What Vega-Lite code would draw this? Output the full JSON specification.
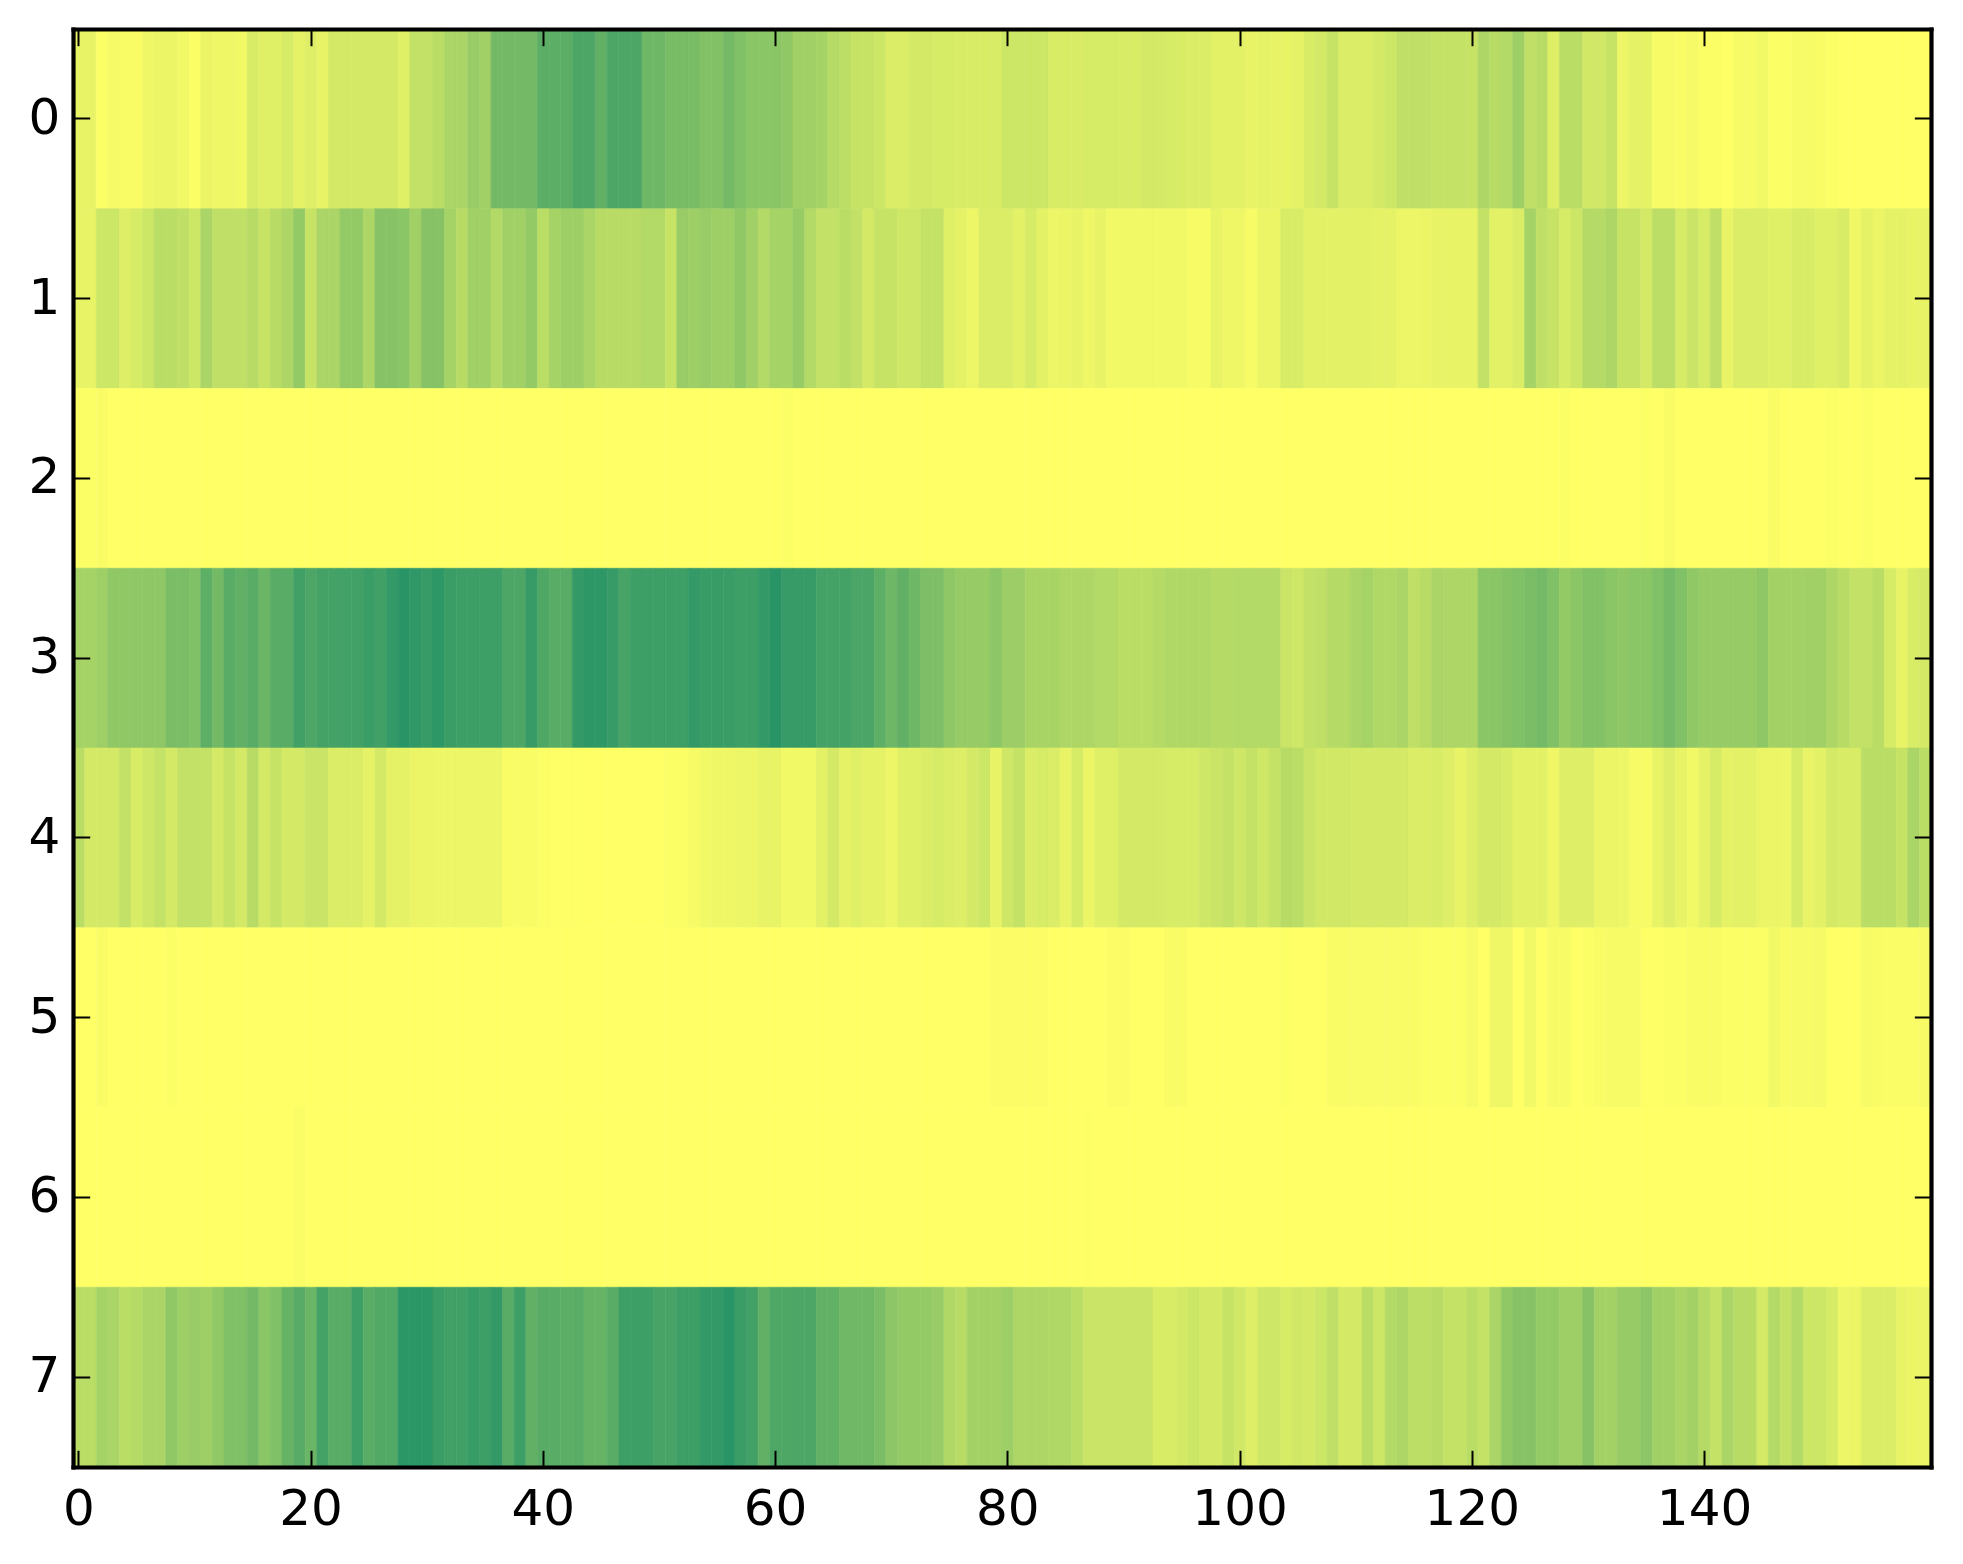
{
"$schema":"https://vega.github.io/schema/vega-lite/v6.json",
"width":1858,"height":1438,
"autosize":{"type":"none"},
"padding":{"left":73,"top":29,"right":32,"bottom":97},
"background":"white",
"data":{"values":[
{"x":0,"y":0,"v":0.09},{"x":1,"y":0,"v":0.09},{"x":2,"y":0,"v":0.01},{"x":3,"y":0,"v":0.04},{"x":4,"y":0,"v":0.02},{"x":5,"y":0,"v":0.02},{"x":6,"y":0,"v":0.06},{"x":7,"y":0,"v":0.08},{"x":8,"y":0,"v":0.08},{"x":9,"y":0,"v":0.05},{"x":10,"y":0,"v":0.01},{"x":11,"y":0,"v":0.08},{"x":12,"y":0,"v":0.06},{"x":13,"y":0,"v":0.06},{"x":14,"y":0,"v":0.05},{"x":15,"y":0,"v":0.15},{"x":16,"y":0,"v":0.12},{"x":17,"y":0,"v":0.12},{"x":18,"y":0,"v":0.16},{"x":19,"y":0,"v":0.1},
{"x":20,"y":0,"v":0.13},{"x":21,"y":0,"v":0.09},{"x":22,"y":0,"v":0.17},{"x":23,"y":0,"v":0.17},{"x":24,"y":0,"v":0.17},{"x":25,"y":0,"v":0.17},{"x":26,"y":0,"v":0.17},{"x":27,"y":0,"v":0.17},{"x":28,"y":0,"v":0.12},{"x":29,"y":0,"v":0.24},{"x":30,"y":0,"v":0.24},{"x":31,"y":0,"v":0.27},{"x":32,"y":0,"v":0.33},{"x":33,"y":0,"v":0.33},{"x":34,"y":0,"v":0.4},{"x":35,"y":0,"v":0.37},{"x":36,"y":0,"v":0.55},{"x":37,"y":0,"v":0.55},{"x":38,"y":0,"v":0.55},{"x":39,"y":0,"v":0.55},
{"x":40,"y":0,"v":0.64},{"x":41,"y":0,"v":0.64},{"x":42,"y":0,"v":0.64},{"x":43,"y":0,"v":0.7},{"x":44,"y":0,"v":0.7},{"x":45,"y":0,"v":0.62},{"x":46,"y":0,"v":0.7},{"x":47,"y":0,"v":0.7},{"x":48,"y":0,"v":0.7},{"x":49,"y":0,"v":0.57},{"x":50,"y":0,"v":0.57},{"x":51,"y":0,"v":0.53},{"x":52,"y":0,"v":0.53},{"x":53,"y":0,"v":0.53},{"x":54,"y":0,"v":0.49},{"x":55,"y":0,"v":0.49},{"x":56,"y":0,"v":0.55},{"x":57,"y":0,"v":0.5},{"x":58,"y":0,"v":0.46},{"x":59,"y":0,"v":0.46},
{"x":60,"y":0,"v":0.46},{"x":61,"y":0,"v":0.43},{"x":62,"y":0,"v":0.37},{"x":63,"y":0,"v":0.37},{"x":64,"y":0,"v":0.35},{"x":65,"y":0,"v":0.29},{"x":66,"y":0,"v":0.26},{"x":67,"y":0,"v":0.22},{"x":68,"y":0,"v":0.22},{"x":69,"y":0,"v":0.2},{"x":70,"y":0,"v":0.14},{"x":71,"y":0,"v":0.14},{"x":72,"y":0,"v":0.17},{"x":73,"y":0,"v":0.17},{"x":74,"y":0,"v":0.16},{"x":75,"y":0,"v":0.16},{"x":76,"y":0,"v":0.15},{"x":77,"y":0,"v":0.15},{"x":78,"y":0,"v":0.15},{"x":79,"y":0,"v":0.15},
{"x":80,"y":0,"v":0.2},{"x":81,"y":0,"v":0.2},{"x":82,"y":0,"v":0.2},{"x":83,"y":0,"v":0.2},{"x":84,"y":0,"v":0.15},{"x":85,"y":0,"v":0.15},{"x":86,"y":0,"v":0.15},{"x":87,"y":0,"v":0.16},{"x":88,"y":0,"v":0.16},{"x":89,"y":0,"v":0.16},{"x":90,"y":0,"v":0.15},{"x":91,"y":0,"v":0.15},{"x":92,"y":0,"v":0.17},{"x":93,"y":0,"v":0.17},{"x":94,"y":0,"v":0.16},{"x":95,"y":0,"v":0.15},{"x":96,"y":0,"v":0.14},{"x":97,"y":0,"v":0.14},{"x":98,"y":0,"v":0.11},{"x":99,"y":0,"v":0.11},
{"x":100,"y":0,"v":0.11},{"x":101,"y":0,"v":0.09},{"x":102,"y":0,"v":0.1},{"x":103,"y":0,"v":0.09},{"x":104,"y":0,"v":0.09},{"x":105,"y":0,"v":0.1},{"x":106,"y":0,"v":0.15},{"x":107,"y":0,"v":0.17},{"x":108,"y":0,"v":0.22},{"x":109,"y":0,"v":0.14},{"x":110,"y":0,"v":0.14},{"x":111,"y":0,"v":0.14},{"x":112,"y":0,"v":0.17},{"x":113,"y":0,"v":0.2},{"x":114,"y":0,"v":0.25},{"x":115,"y":0,"v":0.25},{"x":116,"y":0,"v":0.25},{"x":117,"y":0,"v":0.23},{"x":118,"y":0,"v":0.23},{"x":119,"y":0,"v":0.23},
{"x":120,"y":0,"v":0.22},{"x":121,"y":0,"v":0.32},{"x":122,"y":0,"v":0.28},{"x":123,"y":0,"v":0.3},{"x":124,"y":0,"v":0.38},{"x":125,"y":0,"v":0.25},{"x":126,"y":0,"v":0.28},{"x":127,"y":0,"v":0.13},{"x":128,"y":0,"v":0.27},{"x":129,"y":0,"v":0.27},{"x":130,"y":0,"v":0.18},{"x":131,"y":0,"v":0.18},{"x":132,"y":0,"v":0.22},{"x":133,"y":0,"v":0.07},{"x":134,"y":0,"v":0.1},{"x":135,"y":0,"v":0.1},{"x":136,"y":0,"v":0.03},{"x":137,"y":0,"v":0.03},{"x":138,"y":0,"v":0.02},{"x":139,"y":0,"v":0.04},
{"x":140,"y":0,"v":0.01},{"x":141,"y":0,"v":0.01},{"x":142,"y":0,"v":0},{"x":143,"y":0,"v":0.03},{"x":144,"y":0,"v":0.03},{"x":145,"y":0,"v":0.05},{"x":146,"y":0,"v":0.01},{"x":147,"y":0,"v":0.01},{"x":148,"y":0,"v":0.03},{"x":149,"y":0,"v":0.03},{"x":150,"y":0,"v":0.02},{"x":151,"y":0,"v":0.01},{"x":152,"y":0,"v":0},{"x":153,"y":0,"v":0},{"x":154,"y":0,"v":0},{"x":155,"y":0,"v":0},{"x":156,"y":0,"v":0},{"x":157,"y":0,"v":0},{"x":158,"y":0,"v":0},{"x":159,"y":0,"v":0},
{"x":0,"y":1,"v":0.09},{"x":1,"y":1,"v":0.09},{"x":2,"y":1,"v":0.2},{"x":3,"y":1,"v":0.2},{"x":4,"y":1,"v":0.13},{"x":5,"y":1,"v":0.16},{"x":6,"y":1,"v":0.2},{"x":7,"y":1,"v":0.27},{"x":8,"y":1,"v":0.27},{"x":9,"y":1,"v":0.25},{"x":10,"y":1,"v":0.2},{"x":11,"y":1,"v":0.33},{"x":12,"y":1,"v":0.25},{"x":13,"y":1,"v":0.25},{"x":14,"y":1,"v":0.25},{"x":15,"y":1,"v":0.28},{"x":16,"y":1,"v":0.22},{"x":17,"y":1,"v":0.28},{"x":18,"y":1,"v":0.32},{"x":19,"y":1,"v":0.42},
{"x":20,"y":1,"v":0.22},{"x":21,"y":1,"v":0.33},{"x":22,"y":1,"v":0.33},{"x":23,"y":1,"v":0.42},{"x":24,"y":1,"v":0.42},{"x":25,"y":1,"v":0.32},{"x":26,"y":1,"v":0.47},{"x":27,"y":1,"v":0.47},{"x":28,"y":1,"v":0.46},{"x":29,"y":1,"v":0.37},{"x":30,"y":1,"v":0.47},{"x":31,"y":1,"v":0.47},{"x":32,"y":1,"v":0.35},{"x":33,"y":1,"v":0.28},{"x":34,"y":1,"v":0.37},{"x":35,"y":1,"v":0.37},{"x":36,"y":1,"v":0.3},{"x":37,"y":1,"v":0.37},{"x":38,"y":1,"v":0.37},{"x":39,"y":1,"v":0.42},
{"x":40,"y":1,"v":0.27},{"x":41,"y":1,"v":0.35},{"x":42,"y":1,"v":0.38},{"x":43,"y":1,"v":0.38},{"x":44,"y":1,"v":0.33},{"x":45,"y":1,"v":0.28},{"x":46,"y":1,"v":0.28},{"x":47,"y":1,"v":0.28},{"x":48,"y":1,"v":0.28},{"x":49,"y":1,"v":0.3},{"x":50,"y":1,"v":0.3},{"x":51,"y":1,"v":0.22},{"x":52,"y":1,"v":0.4},{"x":53,"y":1,"v":0.38},{"x":54,"y":1,"v":0.4},{"x":55,"y":1,"v":0.38},{"x":56,"y":1,"v":0.38},{"x":57,"y":1,"v":0.43},{"x":58,"y":1,"v":0.37},{"x":59,"y":1,"v":0.3},
{"x":60,"y":1,"v":0.35},{"x":61,"y":1,"v":0.35},{"x":62,"y":1,"v":0.41},{"x":63,"y":1,"v":0.3},{"x":64,"y":1,"v":0.24},{"x":65,"y":1,"v":0.24},{"x":66,"y":1,"v":0.27},{"x":67,"y":1,"v":0.24},{"x":68,"y":1,"v":0.17},{"x":69,"y":1,"v":0.22},{"x":70,"y":1,"v":0.22},{"x":71,"y":1,"v":0.19},{"x":72,"y":1,"v":0.19},{"x":73,"y":1,"v":0.23},{"x":74,"y":1,"v":0.23},{"x":75,"y":1,"v":0.12},{"x":76,"y":1,"v":0.1},{"x":77,"y":1,"v":0.07},{"x":78,"y":1,"v":0.14},{"x":79,"y":1,"v":0.14},
{"x":80,"y":1,"v":0.14},{"x":81,"y":1,"v":0.11},{"x":82,"y":1,"v":0.16},{"x":83,"y":1,"v":0.11},{"x":84,"y":1,"v":0.07},{"x":85,"y":1,"v":0.08},{"x":86,"y":1,"v":0.09},{"x":87,"y":1,"v":0.06},{"x":88,"y":1,"v":0.09},{"x":89,"y":1,"v":0.05},{"x":90,"y":1,"v":0.05},{"x":91,"y":1,"v":0.05},{"x":92,"y":1,"v":0.05},{"x":93,"y":1,"v":0.05},{"x":94,"y":1,"v":0.05},{"x":95,"y":1,"v":0.05},{"x":96,"y":1,"v":0.03},{"x":97,"y":1,"v":0.03},{"x":98,"y":1,"v":0.09},{"x":99,"y":1,"v":0.06},
{"x":100,"y":1,"v":0.06},{"x":101,"y":1,"v":0.03},{"x":102,"y":1,"v":0.08},{"x":103,"y":1,"v":0.08},{"x":104,"y":1,"v":0.15},{"x":105,"y":1,"v":0.15},{"x":106,"y":1,"v":0.11},{"x":107,"y":1,"v":0.11},{"x":108,"y":1,"v":0.11},{"x":109,"y":1,"v":0.11},{"x":110,"y":1,"v":0.11},{"x":111,"y":1,"v":0.11},{"x":112,"y":1,"v":0.1},{"x":113,"y":1,"v":0.1},{"x":114,"y":1,"v":0.07},{"x":115,"y":1,"v":0.07},{"x":116,"y":1,"v":0.08},{"x":117,"y":1,"v":0.09},{"x":118,"y":1,"v":0.09},{"x":119,"y":1,"v":0.09},
{"x":120,"y":1,"v":0.09},{"x":121,"y":1,"v":0.24},{"x":122,"y":1,"v":0.11},{"x":123,"y":1,"v":0.11},{"x":124,"y":1,"v":0.14},{"x":125,"y":1,"v":0.35},{"x":126,"y":1,"v":0.25},{"x":127,"y":1,"v":0.22},{"x":128,"y":1,"v":0.16},{"x":129,"y":1,"v":0.2},{"x":130,"y":1,"v":0.29},{"x":131,"y":1,"v":0.29},{"x":132,"y":1,"v":0.32},{"x":133,"y":1,"v":0.22},{"x":134,"y":1,"v":0.22},{"x":135,"y":1,"v":0.17},{"x":136,"y":1,"v":0.26},{"x":137,"y":1,"v":0.26},{"x":138,"y":1,"v":0.16},{"x":139,"y":1,"v":0.21},
{"x":140,"y":1,"v":0.16},{"x":141,"y":1,"v":0.25},{"x":142,"y":1,"v":0.09},{"x":143,"y":1,"v":0.14},{"x":144,"y":1,"v":0.14},{"x":145,"y":1,"v":0.14},{"x":146,"y":1,"v":0.12},{"x":147,"y":1,"v":0.12},{"x":148,"y":1,"v":0.15},{"x":149,"y":1,"v":0.15},{"x":150,"y":1,"v":0.12},{"x":151,"y":1,"v":0.12},{"x":152,"y":1,"v":0.15},{"x":153,"y":1,"v":0.06},{"x":154,"y":1,"v":0.1},{"x":155,"y":1,"v":0.08},{"x":156,"y":1,"v":0.1},{"x":157,"y":1,"v":0.1},{"x":158,"y":1,"v":0.09},{"x":159,"y":1,"v":0.09},
{"x":0,"y":2,"v":0.01},{"x":1,"y":2,"v":0.01},{"x":2,"y":2,"v":0.02},{"x":3,"y":2,"v":0},{"x":4,"y":2,"v":0},{"x":5,"y":2,"v":0},{"x":6,"y":2,"v":0},{"x":7,"y":2,"v":0},{"x":8,"y":2,"v":0},{"x":9,"y":2,"v":0},{"x":10,"y":2,"v":0},{"x":11,"y":2,"v":0},{"x":12,"y":2,"v":0},{"x":13,"y":2,"v":0},{"x":14,"y":2,"v":0},{"x":15,"y":2,"v":0},{"x":16,"y":2,"v":0},{"x":17,"y":2,"v":0},{"x":18,"y":2,"v":0},{"x":19,"y":2,"v":0},
{"x":20,"y":2,"v":0},{"x":21,"y":2,"v":0},{"x":22,"y":2,"v":0},{"x":23,"y":2,"v":0},{"x":24,"y":2,"v":0},{"x":25,"y":2,"v":0},{"x":26,"y":2,"v":0},{"x":27,"y":2,"v":0},{"x":28,"y":2,"v":0},{"x":29,"y":2,"v":0},{"x":30,"y":2,"v":0},{"x":31,"y":2,"v":0},{"x":32,"y":2,"v":0},{"x":33,"y":2,"v":0},{"x":34,"y":2,"v":0},{"x":35,"y":2,"v":0},{"x":36,"y":2,"v":0},{"x":37,"y":2,"v":0},{"x":38,"y":2,"v":0},{"x":39,"y":2,"v":0},
{"x":40,"y":2,"v":0},{"x":41,"y":2,"v":0},{"x":42,"y":2,"v":0},{"x":43,"y":2,"v":0},{"x":44,"y":2,"v":0},{"x":45,"y":2,"v":0},{"x":46,"y":2,"v":0},{"x":47,"y":2,"v":0},{"x":48,"y":2,"v":0},{"x":49,"y":2,"v":0},{"x":50,"y":2,"v":0},{"x":51,"y":2,"v":0},{"x":52,"y":2,"v":0},{"x":53,"y":2,"v":0},{"x":54,"y":2,"v":0},{"x":55,"y":2,"v":0},{"x":56,"y":2,"v":0},{"x":57,"y":2,"v":0},{"x":58,"y":2,"v":0},{"x":59,"y":2,"v":0},
{"x":60,"y":2,"v":0},{"x":61,"y":2,"v":0.01},{"x":62,"y":2,"v":0},{"x":63,"y":2,"v":0},{"x":64,"y":2,"v":0},{"x":65,"y":2,"v":0},{"x":66,"y":2,"v":0},{"x":67,"y":2,"v":0},{"x":68,"y":2,"v":0},{"x":69,"y":2,"v":0},{"x":70,"y":2,"v":0},{"x":71,"y":2,"v":0},{"x":72,"y":2,"v":0},{"x":73,"y":2,"v":0},{"x":74,"y":2,"v":0},{"x":75,"y":2,"v":0},{"x":76,"y":2,"v":0},{"x":77,"y":2,"v":0},{"x":78,"y":2,"v":0},{"x":79,"y":2,"v":0},
{"x":80,"y":2,"v":0},{"x":81,"y":2,"v":0},{"x":82,"y":2,"v":0},{"x":83,"y":2,"v":0},{"x":84,"y":2,"v":0},{"x":85,"y":2,"v":0},{"x":86,"y":2,"v":0},{"x":87,"y":2,"v":0},{"x":88,"y":2,"v":0},{"x":89,"y":2,"v":0},{"x":90,"y":2,"v":0},{"x":91,"y":2,"v":0},{"x":92,"y":2,"v":0},{"x":93,"y":2,"v":0},{"x":94,"y":2,"v":0},{"x":95,"y":2,"v":0},{"x":96,"y":2,"v":0},{"x":97,"y":2,"v":0},{"x":98,"y":2,"v":0},{"x":99,"y":2,"v":0},
{"x":100,"y":2,"v":0},{"x":101,"y":2,"v":0},{"x":102,"y":2,"v":0},{"x":103,"y":2,"v":0},{"x":104,"y":2,"v":0},{"x":105,"y":2,"v":0},{"x":106,"y":2,"v":0},{"x":107,"y":2,"v":0},{"x":108,"y":2,"v":0},{"x":109,"y":2,"v":0},{"x":110,"y":2,"v":0},{"x":111,"y":2,"v":0},{"x":112,"y":2,"v":0},{"x":113,"y":2,"v":0},{"x":114,"y":2,"v":0},{"x":115,"y":2,"v":0},{"x":116,"y":2,"v":0},{"x":117,"y":2,"v":0},{"x":118,"y":2,"v":0},{"x":119,"y":2,"v":0},
{"x":120,"y":2,"v":0},{"x":121,"y":2,"v":0},{"x":122,"y":2,"v":0},{"x":123,"y":2,"v":0},{"x":124,"y":2,"v":0},{"x":125,"y":2,"v":0},{"x":126,"y":2,"v":0},{"x":127,"y":2,"v":0},{"x":128,"y":2,"v":0.01},{"x":129,"y":2,"v":0},{"x":130,"y":2,"v":0},{"x":131,"y":2,"v":0},{"x":132,"y":2,"v":0},{"x":133,"y":2,"v":0},{"x":134,"y":2,"v":0},{"x":135,"y":2,"v":0.01},{"x":136,"y":2,"v":0},{"x":137,"y":2,"v":0.02},{"x":138,"y":2,"v":0},{"x":139,"y":2,"v":0},
{"x":140,"y":2,"v":0},{"x":141,"y":2,"v":0},{"x":142,"y":2,"v":0},{"x":143,"y":2,"v":0},{"x":144,"y":2,"v":0},{"x":145,"y":2,"v":0},{"x":146,"y":2,"v":0.02},{"x":147,"y":2,"v":0},{"x":148,"y":2,"v":0},{"x":149,"y":2,"v":0},{"x":150,"y":2,"v":0},{"x":151,"y":2,"v":0.01},{"x":152,"y":2,"v":0},{"x":153,"y":2,"v":0},{"x":154,"y":2,"v":0.01},{"x":155,"y":2,"v":0},{"x":156,"y":2,"v":0},{"x":157,"y":2,"v":0},{"x":158,"y":2,"v":0},{"x":159,"y":2,"v":0},
{"x":0,"y":3,"v":0.35},{"x":1,"y":3,"v":0.35},{"x":2,"y":3,"v":0.38},{"x":3,"y":3,"v":0.43},{"x":4,"y":3,"v":0.43},{"x":5,"y":3,"v":0.44},{"x":6,"y":3,"v":0.44},{"x":7,"y":3,"v":0.44},{"x":8,"y":3,"v":0.52},{"x":9,"y":3,"v":0.52},{"x":10,"y":3,"v":0.5},{"x":11,"y":3,"v":0.63},{"x":12,"y":3,"v":0.55},{"x":13,"y":3,"v":0.65},{"x":14,"y":3,"v":0.62},{"x":15,"y":3,"v":0.65},{"x":16,"y":3,"v":0.58},{"x":17,"y":3,"v":0.65},{"x":18,"y":3,"v":0.65},{"x":19,"y":3,"v":0.75},
{"x":20,"y":3,"v":0.7},{"x":21,"y":3,"v":0.73},{"x":22,"y":3,"v":0.73},{"x":23,"y":3,"v":0.74},{"x":24,"y":3,"v":0.74},{"x":25,"y":3,"v":0.77},{"x":26,"y":3,"v":0.75},{"x":27,"y":3,"v":0.8},{"x":28,"y":3,"v":0.84},{"x":29,"y":3,"v":0.81},{"x":30,"y":3,"v":0.79},{"x":31,"y":3,"v":0.82},{"x":32,"y":3,"v":0.77},{"x":33,"y":3,"v":0.76},{"x":34,"y":3,"v":0.76},{"x":35,"y":3,"v":0.76},{"x":36,"y":3,"v":0.76},{"x":37,"y":3,"v":0.7},{"x":38,"y":3,"v":0.7},{"x":39,"y":3,"v":0.79},
{"x":40,"y":3,"v":0.69},{"x":41,"y":3,"v":0.65},{"x":42,"y":3,"v":0.65},{"x":43,"y":3,"v":0.8},{"x":44,"y":3,"v":0.82},{"x":45,"y":3,"v":0.82},{"x":46,"y":3,"v":0.79},{"x":47,"y":3,"v":0.72},{"x":48,"y":3,"v":0.76},{"x":49,"y":3,"v":0.76},{"x":50,"y":3,"v":0.76},{"x":51,"y":3,"v":0.76},{"x":52,"y":3,"v":0.76},{"x":53,"y":3,"v":0.8},{"x":54,"y":3,"v":0.78},{"x":55,"y":3,"v":0.78},{"x":56,"y":3,"v":0.77},{"x":57,"y":3,"v":0.76},{"x":58,"y":3,"v":0.76},{"x":59,"y":3,"v":0.8},
{"x":60,"y":3,"v":0.84},{"x":61,"y":3,"v":0.79},{"x":62,"y":3,"v":0.79},{"x":63,"y":3,"v":0.79},{"x":64,"y":3,"v":0.73},{"x":65,"y":3,"v":0.73},{"x":66,"y":3,"v":0.73},{"x":67,"y":3,"v":0.71},{"x":68,"y":3,"v":0.71},{"x":69,"y":3,"v":0.63},{"x":70,"y":3,"v":0.57},{"x":71,"y":3,"v":0.62},{"x":72,"y":3,"v":0.57},{"x":73,"y":3,"v":0.51},{"x":74,"y":3,"v":0.51},{"x":75,"y":3,"v":0.44},{"x":76,"y":3,"v":0.41},{"x":77,"y":3,"v":0.41},{"x":78,"y":3,"v":0.41},{"x":79,"y":3,"v":0.45},
{"x":80,"y":3,"v":0.39},{"x":81,"y":3,"v":0.39},{"x":82,"y":3,"v":0.34},{"x":83,"y":3,"v":0.34},{"x":84,"y":3,"v":0.34},{"x":85,"y":3,"v":0.32},{"x":86,"y":3,"v":0.32},{"x":87,"y":3,"v":0.32},{"x":88,"y":3,"v":0.3},{"x":89,"y":3,"v":0.3},{"x":90,"y":3,"v":0.27},{"x":91,"y":3,"v":0.27},{"x":92,"y":3,"v":0.27},{"x":93,"y":3,"v":0.29},{"x":94,"y":3,"v":0.31},{"x":95,"y":3,"v":0.31},{"x":96,"y":3,"v":0.31},{"x":97,"y":3,"v":0.31},{"x":98,"y":3,"v":0.29},{"x":99,"y":3,"v":0.29},
{"x":100,"y":3,"v":0.3},{"x":101,"y":3,"v":0.3},{"x":102,"y":3,"v":0.3},{"x":103,"y":3,"v":0.3},{"x":104,"y":3,"v":0.21},{"x":105,"y":3,"v":0.19},{"x":106,"y":3,"v":0.24},{"x":107,"y":3,"v":0.25},{"x":108,"y":3,"v":0.29},{"x":109,"y":3,"v":0.29},{"x":110,"y":3,"v":0.33},{"x":111,"y":3,"v":0.35},{"x":112,"y":3,"v":0.31},{"x":113,"y":3,"v":0.31},{"x":114,"y":3,"v":0.33},{"x":115,"y":3,"v":0.25},{"x":116,"y":3,"v":0.28},{"x":117,"y":3,"v":0.33},{"x":118,"y":3,"v":0.32},{"x":119,"y":3,"v":0.32},
{"x":120,"y":3,"v":0.32},{"x":121,"y":3,"v":0.46},{"x":122,"y":3,"v":0.46},{"x":123,"y":3,"v":0.48},{"x":124,"y":3,"v":0.5},{"x":125,"y":3,"v":0.52},{"x":126,"y":3,"v":0.55},{"x":127,"y":3,"v":0.5},{"x":128,"y":3,"v":0.42},{"x":129,"y":3,"v":0.46},{"x":130,"y":3,"v":0.49},{"x":131,"y":3,"v":0.49},{"x":132,"y":3,"v":0.46},{"x":133,"y":3,"v":0.44},{"x":134,"y":3,"v":0.46},{"x":135,"y":3,"v":0.46},{"x":136,"y":3,"v":0.5},{"x":137,"y":3,"v":0.54},{"x":138,"y":3,"v":0.5},{"x":139,"y":3,"v":0.43},
{"x":140,"y":3,"v":0.41},{"x":141,"y":3,"v":0.41},{"x":142,"y":3,"v":0.41},{"x":143,"y":3,"v":0.41},{"x":144,"y":3,"v":0.41},{"x":145,"y":3,"v":0.44},{"x":146,"y":3,"v":0.36},{"x":147,"y":3,"v":0.36},{"x":148,"y":3,"v":0.36},{"x":149,"y":3,"v":0.37},{"x":150,"y":3,"v":0.37},{"x":151,"y":3,"v":0.32},{"x":152,"y":3,"v":0.28},{"x":153,"y":3,"v":0.24},{"x":154,"y":3,"v":0.24},{"x":155,"y":3,"v":0.27},{"x":156,"y":3,"v":0.16},{"x":157,"y":3,"v":0.09},{"x":158,"y":3,"v":0.15},{"x":159,"y":3,"v":0.17},
{"x":0,"y":4,"v":0.27},{"x":1,"y":4,"v":0.17},{"x":2,"y":4,"v":0.17},{"x":3,"y":4,"v":0.17},{"x":4,"y":4,"v":0.24},{"x":5,"y":4,"v":0.15},{"x":6,"y":4,"v":0.19},{"x":7,"y":4,"v":0.23},{"x":8,"y":4,"v":0.17},{"x":9,"y":4,"v":0.24},{"x":10,"y":4,"v":0.24},{"x":11,"y":4,"v":0.23},{"x":12,"y":4,"v":0.17},{"x":13,"y":4,"v":0.22},{"x":14,"y":4,"v":0.17},{"x":15,"y":4,"v":0.28},{"x":16,"y":4,"v":0.17},{"x":17,"y":4,"v":0.22},{"x":18,"y":4,"v":0.17},{"x":19,"y":4,"v":0.17},
{"x":20,"y":4,"v":0.21},{"x":21,"y":4,"v":0.21},{"x":22,"y":4,"v":0.14},{"x":23,"y":4,"v":0.14},{"x":24,"y":4,"v":0.14},{"x":25,"y":4,"v":0.1},{"x":26,"y":4,"v":0.17},{"x":27,"y":4,"v":0.1},{"x":28,"y":4,"v":0.1},{"x":29,"y":4,"v":0.08},{"x":30,"y":4,"v":0.08},{"x":31,"y":4,"v":0.07},{"x":32,"y":4,"v":0.07},{"x":33,"y":4,"v":0.07},{"x":34,"y":4,"v":0.07},{"x":35,"y":4,"v":0.07},{"x":36,"y":4,"v":0.07},{"x":37,"y":4,"v":0.02},{"x":38,"y":4,"v":0.02},{"x":39,"y":4,"v":0.02},
{"x":40,"y":4,"v":0.01},{"x":41,"y":4,"v":0.005},{"x":42,"y":4,"v":0.005},{"x":43,"y":4,"v":0.005},{"x":44,"y":4,"v":0},{"x":45,"y":4,"v":0},{"x":46,"y":4,"v":0},{"x":47,"y":4,"v":0},{"x":48,"y":4,"v":0},{"x":49,"y":4,"v":0},{"x":50,"y":4,"v":0},{"x":51,"y":4,"v":0.01},{"x":52,"y":4,"v":0.01},{"x":53,"y":4,"v":0.03},{"x":54,"y":4,"v":0.05},{"x":55,"y":4,"v":0.06},{"x":56,"y":4,"v":0.06},{"x":57,"y":4,"v":0.07},{"x":58,"y":4,"v":0.07},{"x":59,"y":4,"v":0.09},
{"x":60,"y":4,"v":0.09},{"x":61,"y":4,"v":0.05},{"x":62,"y":4,"v":0.05},{"x":63,"y":4,"v":0.05},{"x":64,"y":4,"v":0.11},{"x":65,"y":4,"v":0.17},{"x":66,"y":4,"v":0.1},{"x":67,"y":4,"v":0.12},{"x":68,"y":4,"v":0.1},{"x":69,"y":4,"v":0.1},{"x":70,"y":4,"v":0.07},{"x":71,"y":4,"v":0.12},{"x":72,"y":4,"v":0.12},{"x":73,"y":4,"v":0.14},{"x":74,"y":4,"v":0.16},{"x":75,"y":4,"v":0.14},{"x":76,"y":4,"v":0.13},{"x":77,"y":4,"v":0.17},{"x":78,"y":4,"v":0.2},{"x":79,"y":4,"v":0.09},
{"x":80,"y":4,"v":0.19},{"x":81,"y":4,"v":0.23},{"x":82,"y":4,"v":0.14},{"x":83,"y":4,"v":0.16},{"x":84,"y":4,"v":0.14},{"x":85,"y":4,"v":0.09},{"x":86,"y":4,"v":0.16},{"x":87,"y":4,"v":0.08},{"x":88,"y":4,"v":0.12},{"x":89,"y":4,"v":0.12},{"x":90,"y":4,"v":0.17},{"x":91,"y":4,"v":0.17},{"x":92,"y":4,"v":0.17},{"x":93,"y":4,"v":0.17},{"x":94,"y":4,"v":0.16},{"x":95,"y":4,"v":0.16},{"x":96,"y":4,"v":0.16},{"x":97,"y":4,"v":0.19},{"x":98,"y":4,"v":0.21},{"x":99,"y":4,"v":0.23},
{"x":100,"y":4,"v":0.19},{"x":101,"y":4,"v":0.23},{"x":102,"y":4,"v":0.19},{"x":103,"y":4,"v":0.23},{"x":104,"y":4,"v":0.28},{"x":105,"y":4,"v":0.27},{"x":106,"y":4,"v":0.21},{"x":107,"y":4,"v":0.18},{"x":108,"y":4,"v":0.18},{"x":109,"y":4,"v":0.18},{"x":110,"y":4,"v":0.17},{"x":111,"y":4,"v":0.17},{"x":112,"y":4,"v":0.17},{"x":113,"y":4,"v":0.17},{"x":114,"y":4,"v":0.17},{"x":115,"y":4,"v":0.14},{"x":116,"y":4,"v":0.14},{"x":117,"y":4,"v":0.15},{"x":118,"y":4,"v":0.13},{"x":119,"y":4,"v":0.09},
{"x":120,"y":4,"v":0.13},{"x":121,"y":4,"v":0.17},{"x":122,"y":4,"v":0.17},{"x":123,"y":4,"v":0.15},{"x":124,"y":4,"v":0.11},{"x":125,"y":4,"v":0.11},{"x":126,"y":4,"v":0.11},{"x":127,"y":4,"v":0.06},{"x":128,"y":4,"v":0.13},{"x":129,"y":4,"v":0.13},{"x":130,"y":4,"v":0.13},{"x":131,"y":4,"v":0.08},{"x":132,"y":4,"v":0.08},{"x":133,"y":4,"v":0.07},{"x":134,"y":4,"v":0.03},{"x":135,"y":4,"v":0.03},{"x":136,"y":4,"v":0.09},{"x":137,"y":4,"v":0.13},{"x":138,"y":4,"v":0.09},{"x":139,"y":4,"v":0.05},
{"x":140,"y":4,"v":0.1},{"x":141,"y":4,"v":0.16},{"x":142,"y":4,"v":0.1},{"x":143,"y":4,"v":0.11},{"x":144,"y":4,"v":0.11},{"x":145,"y":4,"v":0.08},{"x":146,"y":4,"v":0.08},{"x":147,"y":4,"v":0.07},{"x":148,"y":4,"v":0.16},{"x":149,"y":4,"v":0.09},{"x":150,"y":4,"v":0.11},{"x":151,"y":4,"v":0.17},{"x":152,"y":4,"v":0.15},{"x":153,"y":4,"v":0.15},{"x":154,"y":4,"v":0.27},{"x":155,"y":4,"v":0.27},{"x":156,"y":4,"v":0.27},{"x":157,"y":4,"v":0.22},{"x":158,"y":4,"v":0.33},{"x":159,"y":4,"v":0.27},
{"x":0,"y":5,"v":0},{"x":1,"y":5,"v":0},{"x":2,"y":5,"v":0.02},{"x":3,"y":5,"v":0},{"x":4,"y":5,"v":0},{"x":5,"y":5,"v":0},{"x":6,"y":5,"v":0},{"x":7,"y":5,"v":0},{"x":8,"y":5,"v":0.01},{"x":9,"y":5,"v":0},{"x":10,"y":5,"v":0},{"x":11,"y":5,"v":0},{"x":12,"y":5,"v":0},{"x":13,"y":5,"v":0},{"x":14,"y":5,"v":0},{"x":15,"y":5,"v":0},{"x":16,"y":5,"v":0},{"x":17,"y":5,"v":0},{"x":18,"y":5,"v":0},{"x":19,"y":5,"v":0},
{"x":20,"y":5,"v":0},{"x":21,"y":5,"v":0},{"x":22,"y":5,"v":0},{"x":23,"y":5,"v":0},{"x":24,"y":5,"v":0},{"x":25,"y":5,"v":0},{"x":26,"y":5,"v":0},{"x":27,"y":5,"v":0},{"x":28,"y":5,"v":0},{"x":29,"y":5,"v":0},{"x":30,"y":5,"v":0},{"x":31,"y":5,"v":0},{"x":32,"y":5,"v":0},{"x":33,"y":5,"v":0},{"x":34,"y":5,"v":0},{"x":35,"y":5,"v":0},{"x":36,"y":5,"v":0},{"x":37,"y":5,"v":0},{"x":38,"y":5,"v":0},{"x":39,"y":5,"v":0},
{"x":40,"y":5,"v":0},{"x":41,"y":5,"v":0},{"x":42,"y":5,"v":0},{"x":43,"y":5,"v":0},{"x":44,"y":5,"v":0},{"x":45,"y":5,"v":0},{"x":46,"y":5,"v":0},{"x":47,"y":5,"v":0},{"x":48,"y":5,"v":0},{"x":49,"y":5,"v":0},{"x":50,"y":5,"v":0},{"x":51,"y":5,"v":0},{"x":52,"y":5,"v":0},{"x":53,"y":5,"v":0},{"x":54,"y":5,"v":0},{"x":55,"y":5,"v":0},{"x":56,"y":5,"v":0},{"x":57,"y":5,"v":0},{"x":58,"y":5,"v":0},{"x":59,"y":5,"v":0},
{"x":60,"y":5,"v":0},{"x":61,"y":5,"v":0},{"x":62,"y":5,"v":0},{"x":63,"y":5,"v":0},{"x":64,"y":5,"v":0},{"x":65,"y":5,"v":0},{"x":66,"y":5,"v":0},{"x":67,"y":5,"v":0},{"x":68,"y":5,"v":0},{"x":69,"y":5,"v":0},{"x":70,"y":5,"v":0},{"x":71,"y":5,"v":0},{"x":72,"y":5,"v":0},{"x":73,"y":5,"v":0},{"x":74,"y":5,"v":0},{"x":75,"y":5,"v":0},{"x":76,"y":5,"v":0},{"x":77,"y":5,"v":0},{"x":78,"y":5,"v":0},{"x":79,"y":5,"v":0.012},
{"x":80,"y":5,"v":0.012},{"x":81,"y":5,"v":0.012},{"x":82,"y":5,"v":0.012},{"x":83,"y":5,"v":0.012},{"x":84,"y":5,"v":0},{"x":85,"y":5,"v":0},{"x":86,"y":5,"v":0},{"x":87,"y":5,"v":0},{"x":88,"y":5,"v":0},{"x":89,"y":5,"v":0.012},{"x":90,"y":5,"v":0.012},{"x":91,"y":5,"v":0},{"x":92,"y":5,"v":0},{"x":93,"y":5,"v":0},{"x":94,"y":5,"v":0.02},{"x":95,"y":5,"v":0.02},{"x":96,"y":5,"v":0},{"x":97,"y":5,"v":0},{"x":98,"y":5,"v":0},{"x":99,"y":5,"v":0},
{"x":100,"y":5,"v":0},{"x":101,"y":5,"v":0},{"x":102,"y":5,"v":0},{"x":103,"y":5,"v":0},{"x":104,"y":5,"v":0.01},{"x":105,"y":5,"v":0},{"x":106,"y":5,"v":0},{"x":107,"y":5,"v":0},{"x":108,"y":5,"v":0.02},{"x":109,"y":5,"v":0.02},{"x":110,"y":5,"v":0.025},{"x":111,"y":5,"v":0.025},{"x":112,"y":5,"v":0.025},{"x":113,"y":5,"v":0.025},{"x":114,"y":5,"v":0.02},{"x":115,"y":5,"v":0.02},{"x":116,"y":5,"v":0.01},{"x":117,"y":5,"v":0.01},{"x":118,"y":5,"v":0.01},{"x":119,"y":5,"v":0.01},
{"x":120,"y":5,"v":0.04},{"x":121,"y":5,"v":0},{"x":122,"y":5,"v":0.06},{"x":123,"y":5,"v":0.06},{"x":124,"y":5,"v":0},{"x":125,"y":5,"v":0.05},{"x":126,"y":5,"v":0.005},{"x":127,"y":5,"v":0.03},{"x":128,"y":5,"v":0.03},{"x":129,"y":5,"v":0},{"x":130,"y":5,"v":0.01},{"x":131,"y":5,"v":0.02},{"x":132,"y":5,"v":0.03},{"x":133,"y":5,"v":0.03},{"x":134,"y":5,"v":0.03},{"x":135,"y":5,"v":0.005},{"x":136,"y":5,"v":0.005},{"x":137,"y":5,"v":0.01},{"x":138,"y":5,"v":0.01},{"x":139,"y":5,"v":0.02},
{"x":140,"y":5,"v":0.02},{"x":141,"y":5,"v":0.02},{"x":142,"y":5,"v":0.01},{"x":143,"y":5,"v":0.01},{"x":144,"y":5,"v":0.01},{"x":145,"y":5,"v":0.01},{"x":146,"y":5,"v":0.05},{"x":147,"y":5,"v":0.02},{"x":148,"y":5,"v":0.03},{"x":149,"y":5,"v":0.03},{"x":150,"y":5,"v":0.04},{"x":151,"y":5,"v":0},{"x":152,"y":5,"v":0},{"x":153,"y":5,"v":0},{"x":154,"y":5,"v":0.03},{"x":155,"y":5,"v":0.02},{"x":156,"y":5,"v":0.015},{"x":157,"y":5,"v":0.015},{"x":158,"y":5,"v":0.015},{"x":159,"y":5,"v":0.03},
{"x":0,"y":6,"v":0},{"x":1,"y":6,"v":0},{"x":2,"y":6,"v":0},{"x":3,"y":6,"v":0},{"x":4,"y":6,"v":0},{"x":5,"y":6,"v":0},{"x":6,"y":6,"v":0},{"x":7,"y":6,"v":0},{"x":8,"y":6,"v":0},{"x":9,"y":6,"v":0},{"x":10,"y":6,"v":0},{"x":11,"y":6,"v":0},{"x":12,"y":6,"v":0},{"x":13,"y":6,"v":0},{"x":14,"y":6,"v":0},{"x":15,"y":6,"v":0},{"x":16,"y":6,"v":0},{"x":17,"y":6,"v":0},{"x":18,"y":6,"v":0},{"x":19,"y":6,"v":0.015},
{"x":20,"y":6,"v":0},{"x":21,"y":6,"v":0},{"x":22,"y":6,"v":0},{"x":23,"y":6,"v":0},{"x":24,"y":6,"v":0},{"x":25,"y":6,"v":0},{"x":26,"y":6,"v":0},{"x":27,"y":6,"v":0},{"x":28,"y":6,"v":0},{"x":29,"y":6,"v":0},{"x":30,"y":6,"v":0},{"x":31,"y":6,"v":0},{"x":32,"y":6,"v":0},{"x":33,"y":6,"v":0},{"x":34,"y":6,"v":0},{"x":35,"y":6,"v":0},{"x":36,"y":6,"v":0},{"x":37,"y":6,"v":0},{"x":38,"y":6,"v":0},{"x":39,"y":6,"v":0},
{"x":40,"y":6,"v":0},{"x":41,"y":6,"v":0},{"x":42,"y":6,"v":0},{"x":43,"y":6,"v":0},{"x":44,"y":6,"v":0},{"x":45,"y":6,"v":0},{"x":46,"y":6,"v":0},{"x":47,"y":6,"v":0},{"x":48,"y":6,"v":0},{"x":49,"y":6,"v":0},{"x":50,"y":6,"v":0},{"x":51,"y":6,"v":0},{"x":52,"y":6,"v":0},{"x":53,"y":6,"v":0},{"x":54,"y":6,"v":0},{"x":55,"y":6,"v":0},{"x":56,"y":6,"v":0},{"x":57,"y":6,"v":0},{"x":58,"y":6,"v":0},{"x":59,"y":6,"v":0},
{"x":60,"y":6,"v":0},{"x":61,"y":6,"v":0},{"x":62,"y":6,"v":0},{"x":63,"y":6,"v":0},{"x":64,"y":6,"v":0},{"x":65,"y":6,"v":0},{"x":66,"y":6,"v":0},{"x":67,"y":6,"v":0},{"x":68,"y":6,"v":0},{"x":69,"y":6,"v":0},{"x":70,"y":6,"v":0},{"x":71,"y":6,"v":0},{"x":72,"y":6,"v":0},{"x":73,"y":6,"v":0},{"x":74,"y":6,"v":0},{"x":75,"y":6,"v":0},{"x":76,"y":6,"v":0},{"x":77,"y":6,"v":0},{"x":78,"y":6,"v":0},{"x":79,"y":6,"v":0},
{"x":80,"y":6,"v":0},{"x":81,"y":6,"v":0},{"x":82,"y":6,"v":0},{"x":83,"y":6,"v":0},{"x":84,"y":6,"v":0},{"x":85,"y":6,"v":0},{"x":86,"y":6,"v":0},{"x":87,"y":6,"v":0.003},{"x":88,"y":6,"v":0},{"x":89,"y":6,"v":0},{"x":90,"y":6,"v":0},{"x":91,"y":6,"v":0},{"x":92,"y":6,"v":0},{"x":93,"y":6,"v":0},{"x":94,"y":6,"v":0},{"x":95,"y":6,"v":0},{"x":96,"y":6,"v":0},{"x":97,"y":6,"v":0},{"x":98,"y":6,"v":0},{"x":99,"y":6,"v":0},
{"x":100,"y":6,"v":0},{"x":101,"y":6,"v":0},{"x":102,"y":6,"v":0},{"x":103,"y":6,"v":0},{"x":104,"y":6,"v":0},{"x":105,"y":6,"v":0},{"x":106,"y":6,"v":0},{"x":107,"y":6,"v":0},{"x":108,"y":6,"v":0},{"x":109,"y":6,"v":0},{"x":110,"y":6,"v":0},{"x":111,"y":6,"v":0},{"x":112,"y":6,"v":0},{"x":113,"y":6,"v":0},{"x":114,"y":6,"v":0},{"x":115,"y":6,"v":0},{"x":116,"y":6,"v":0},{"x":117,"y":6,"v":0},{"x":118,"y":6,"v":0},{"x":119,"y":6,"v":0},
{"x":120,"y":6,"v":0},{"x":121,"y":6,"v":0},{"x":122,"y":6,"v":0},{"x":123,"y":6,"v":0},{"x":124,"y":6,"v":0},{"x":125,"y":6,"v":0},{"x":126,"y":6,"v":0},{"x":127,"y":6,"v":0},{"x":128,"y":6,"v":0},{"x":129,"y":6,"v":0},{"x":130,"y":6,"v":0},{"x":131,"y":6,"v":0},{"x":132,"y":6,"v":0},{"x":133,"y":6,"v":0},{"x":134,"y":6,"v":0},{"x":135,"y":6,"v":0},{"x":136,"y":6,"v":0},{"x":137,"y":6,"v":0},{"x":138,"y":6,"v":0},{"x":139,"y":6,"v":0},
{"x":140,"y":6,"v":0},{"x":141,"y":6,"v":0},{"x":142,"y":6,"v":0},{"x":143,"y":6,"v":0},{"x":144,"y":6,"v":0},{"x":145,"y":6,"v":0},{"x":146,"y":6,"v":0},{"x":147,"y":6,"v":0},{"x":148,"y":6,"v":0},{"x":149,"y":6,"v":0},{"x":150,"y":6,"v":0},{"x":151,"y":6,"v":0},{"x":152,"y":6,"v":0},{"x":153,"y":6,"v":0},{"x":154,"y":6,"v":0},{"x":155,"y":6,"v":0},{"x":156,"y":6,"v":0},{"x":157,"y":6,"v":0},{"x":158,"y":6,"v":0},{"x":159,"y":6,"v":0},
{"x":0,"y":7,"v":0.27},{"x":1,"y":7,"v":0.27},{"x":2,"y":7,"v":0.35},{"x":3,"y":7,"v":0.33},{"x":4,"y":7,"v":0.27},{"x":5,"y":7,"v":0.29},{"x":6,"y":7,"v":0.33},{"x":7,"y":7,"v":0.33},{"x":8,"y":7,"v":0.43},{"x":9,"y":7,"v":0.38},{"x":10,"y":7,"v":0.4},{"x":11,"y":7,"v":0.38},{"x":12,"y":7,"v":0.43},{"x":13,"y":7,"v":0.5},{"x":14,"y":7,"v":0.5},{"x":15,"y":7,"v":0.55},{"x":16,"y":7,"v":0.46},{"x":17,"y":7,"v":0.5},{"x":18,"y":7,"v":0.6},{"x":19,"y":7,"v":0.66},
{"x":20,"y":7,"v":0.58},{"x":21,"y":7,"v":0.73},{"x":22,"y":7,"v":0.65},{"x":23,"y":7,"v":0.65},{"x":24,"y":7,"v":0.76},{"x":25,"y":7,"v":0.65},{"x":26,"y":7,"v":0.68},{"x":27,"y":7,"v":0.68},{"x":28,"y":7,"v":0.83},{"x":29,"y":7,"v":0.83},{"x":30,"y":7,"v":0.83},{"x":31,"y":7,"v":0.77},{"x":32,"y":7,"v":0.75},{"x":33,"y":7,"v":0.75},{"x":34,"y":7,"v":0.78},{"x":35,"y":7,"v":0.76},{"x":36,"y":7,"v":0.8},{"x":37,"y":7,"v":0.65},{"x":38,"y":7,"v":0.76},{"x":39,"y":7,"v":0.62},
{"x":40,"y":7,"v":0.65},{"x":41,"y":7,"v":0.65},{"x":42,"y":7,"v":0.64},{"x":43,"y":7,"v":0.65},{"x":44,"y":7,"v":0.6},{"x":45,"y":7,"v":0.6},{"x":46,"y":7,"v":0.65},{"x":47,"y":7,"v":0.76},{"x":48,"y":7,"v":0.76},{"x":49,"y":7,"v":0.76},{"x":50,"y":7,"v":0.72},{"x":51,"y":7,"v":0.72},{"x":52,"y":7,"v":0.76},{"x":53,"y":7,"v":0.76},{"x":54,"y":7,"v":0.8},{"x":55,"y":7,"v":0.8},{"x":56,"y":7,"v":0.84},{"x":57,"y":7,"v":0.77},{"x":58,"y":7,"v":0.74},{"x":59,"y":7,"v":0.62},
{"x":60,"y":7,"v":0.69},{"x":61,"y":7,"v":0.69},{"x":62,"y":7,"v":0.7},{"x":63,"y":7,"v":0.7},{"x":64,"y":7,"v":0.62},{"x":65,"y":7,"v":0.62},{"x":66,"y":7,"v":0.56},{"x":67,"y":7,"v":0.56},{"x":68,"y":7,"v":0.56},{"x":69,"y":7,"v":0.52},{"x":70,"y":7,"v":0.45},{"x":71,"y":7,"v":0.42},{"x":72,"y":7,"v":0.42},{"x":73,"y":7,"v":0.42},{"x":74,"y":7,"v":0.4},{"x":75,"y":7,"v":0.31},{"x":76,"y":7,"v":0.28},{"x":77,"y":7,"v":0.36},{"x":78,"y":7,"v":0.36},{"x":79,"y":7,"v":0.36},
{"x":80,"y":7,"v":0.38},{"x":81,"y":7,"v":0.32},{"x":82,"y":7,"v":0.32},{"x":83,"y":7,"v":0.32},{"x":84,"y":7,"v":0.31},{"x":85,"y":7,"v":0.31},{"x":86,"y":7,"v":0.27},{"x":87,"y":7,"v":0.21},{"x":88,"y":7,"v":0.21},{"x":89,"y":7,"v":0.21},{"x":90,"y":7,"v":0.21},{"x":91,"y":7,"v":0.21},{"x":92,"y":7,"v":0.21},{"x":93,"y":7,"v":0.15},{"x":94,"y":7,"v":0.15},{"x":95,"y":7,"v":0.17},{"x":96,"y":7,"v":0.2},{"x":97,"y":7,"v":0.17},{"x":98,"y":7,"v":0.17},{"x":99,"y":7,"v":0.22},
{"x":100,"y":7,"v":0.18},{"x":101,"y":7,"v":0.13},{"x":102,"y":7,"v":0.19},{"x":103,"y":7,"v":0.19},{"x":104,"y":7,"v":0.16},{"x":105,"y":7,"v":0.18},{"x":106,"y":7,"v":0.17},{"x":107,"y":7,"v":0.2},{"x":108,"y":7,"v":0.25},{"x":109,"y":7,"v":0.17},{"x":110,"y":7,"v":0.17},{"x":111,"y":7,"v":0.27},{"x":112,"y":7,"v":0.2},{"x":113,"y":7,"v":0.3},{"x":114,"y":7,"v":0.32},{"x":115,"y":7,"v":0.26},{"x":116,"y":7,"v":0.26},{"x":117,"y":7,"v":0.28},{"x":118,"y":7,"v":0.23},{"x":119,"y":7,"v":0.23},
{"x":120,"y":7,"v":0.27},{"x":121,"y":7,"v":0.23},{"x":122,"y":7,"v":0.33},{"x":123,"y":7,"v":0.43},{"x":124,"y":7,"v":0.47},{"x":125,"y":7,"v":0.47},{"x":126,"y":7,"v":0.42},{"x":127,"y":7,"v":0.42},{"x":128,"y":7,"v":0.38},{"x":129,"y":7,"v":0.38},{"x":130,"y":7,"v":0.47},{"x":131,"y":7,"v":0.36},{"x":132,"y":7,"v":0.36},{"x":133,"y":7,"v":0.41},{"x":134,"y":7,"v":0.41},{"x":135,"y":7,"v":0.45},{"x":136,"y":7,"v":0.37},{"x":137,"y":7,"v":0.37},{"x":138,"y":7,"v":0.33},{"x":139,"y":7,"v":0.36},
{"x":140,"y":7,"v":0.29},{"x":141,"y":7,"v":0.23},{"x":142,"y":7,"v":0.33},{"x":143,"y":7,"v":0.28},{"x":144,"y":7,"v":0.28},{"x":145,"y":7,"v":0.17},{"x":146,"y":7,"v":0.3},{"x":147,"y":7,"v":0.23},{"x":148,"y":7,"v":0.3},{"x":149,"y":7,"v":0.2},{"x":150,"y":7,"v":0.2},{"x":151,"y":7,"v":0.16},{"x":152,"y":7,"v":0.07},{"x":153,"y":7,"v":0.08},{"x":154,"y":7,"v":0.14},{"x":155,"y":7,"v":0.14},{"x":156,"y":7,"v":0.14},{"x":157,"y":7,"v":0.09},{"x":158,"y":7,"v":0.08},{"x":159,"y":7,"v":0.08}
]},
"config":{"axis":{"labelFont":"DejaVu Sans","labelFontSize":50,"labelColor":"black","tickColor":"black","tickWidth":2,"domainColor":"black","domainWidth":4.2,"domainCap":"square","grid":false,"title":null,"labelAngle":0},"view":{"stroke":null}},
"resolve":{"axis":{"x":"independent","y":"independent"}},
"layer":[
{"mark":{"type":"rect","strokeWidth":0.6},
 "encoding":{
  "x":{"field":"x","type":"ordinal","scale":{"paddingInner":0,"paddingOuter":0},
   "axis":{"orient":"bottom","zindex":1,"values":[0,20,40,60,80,100,120,140],"tickSize":-16.7,"labelPadding":34.5}},
  "y":{"field":"y","type":"ordinal","scale":{"paddingInner":0,"paddingOuter":0},
   "axis":{"orient":"left","zindex":1,"tickSize":-16.7,"labelPadding":30}},
  "color":{"field":"v","type":"quantitative","scale":{"domain":[0,1],"range":["#ffff66","#008066"],"interpolate":"rgb"},"legend":null},
  "stroke":{"field":"v","type":"quantitative","scale":{"domain":[0,1],"range":["#ffff66","#008066"],"interpolate":"rgb"},"legend":null}
 }},
{"mark":{"type":"rect","opacity":0},
 "encoding":{
  "x":{"field":"x","type":"ordinal","axis":{"orient":"top","zindex":1,"values":[0,20,40,60,80,100,120,140],"tickSize":-16.7,"labels":false}},
  "y":{"field":"y","type":"ordinal","axis":{"orient":"right","zindex":1,"tickSize":-16.7,"labels":false}}
 }}
]
}
